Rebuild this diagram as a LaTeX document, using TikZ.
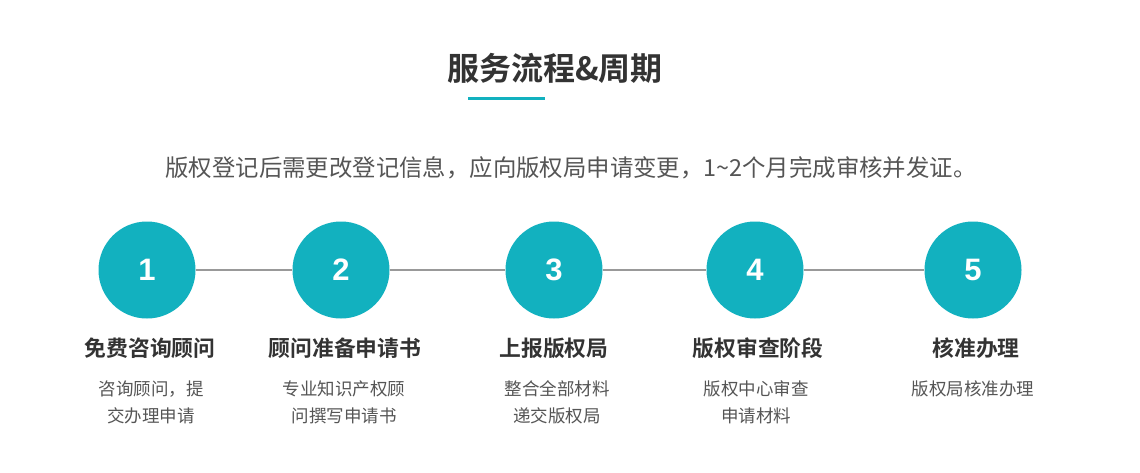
\documentclass[tikz,border=0pt]{standalone}
\usepackage{fontspec}
\setmainfont{Noto Sans CJK SC}
\newfontfamily\cjkb{Noto Sans CJK SC Bold}
\newfontfamily\numf{Liberation Sans}
\definecolor{teal1}{HTML}{12B1BF}
\definecolor{txt}{HTML}{333333}
\definecolor{gr}{HTML}{555555}
\tikzset{
 circ/.style={circle,fill=teal1,minimum size=97pt,inner sep=0pt,text=white,font=\numf\bfseries\fontsize{31}{31}\selectfont},
 ttl/.style={font=\cjkb\fontsize{21.8}{24}\selectfont,text=txt},
 dsc/.style={font=\fontsize{17.5}{27}\selectfont,text=gr,align=center,anchor=north}
}
\begin{document}
\begin{tikzpicture}[x=1pt,y=-1pt]
\useasboundingbox[fill=white] (0,0) rectangle (1140,472);
\node[font=\cjkb\fontsize{32}{36}\selectfont,text=txt] (title) at (555,68) {服务流程\&周期};
\draw[teal1,line width=3pt] (468,98) -- (545,98);
\node[font=\fontsize{23.4}{26}\selectfont,text=gr] (sub) at (571,168) {版权登记后需更改登记信息，应向版权局申请变更，1\textasciitilde2个月完成审核并发证。};
\foreach \i/\x in {1/147,2/341,3/554,4/755,5/973}{
  \node[circ] (c\i) at (\x,270) {\i};
}
\foreach \a/\b in {1/2,2/3,3/4,4/5}{\draw[gray!80,line width=1.2pt] (c\a) -- (c\b);}
\node[ttl] (t1) at (150,348) {免费咨询顾问};
\node[ttl] (t2) at (345,348) {顾问准备申请书};
\node[ttl] (t3) at (554,348) {上报版权局};
\node[ttl] (t4) at (758,348) {版权审查阶段};
\node[ttl] (t5) at (976,348) {核准办理};
\node[dsc] (d1) at (151,377) {咨询顾问，提\\交办理申请};
\node[dsc] (d2) at (344,377) {专业知识产权顾\\问撰写申请书};
\node[dsc] (d3) at (557,377) {整合全部材料\\递交版权局};
\node[dsc] (d4) at (756,377) {版权中心审查\\申请材料};
\node[dsc] (d5) at (973,377) {版权局核准办理};
\end{tikzpicture}
\end{document}
